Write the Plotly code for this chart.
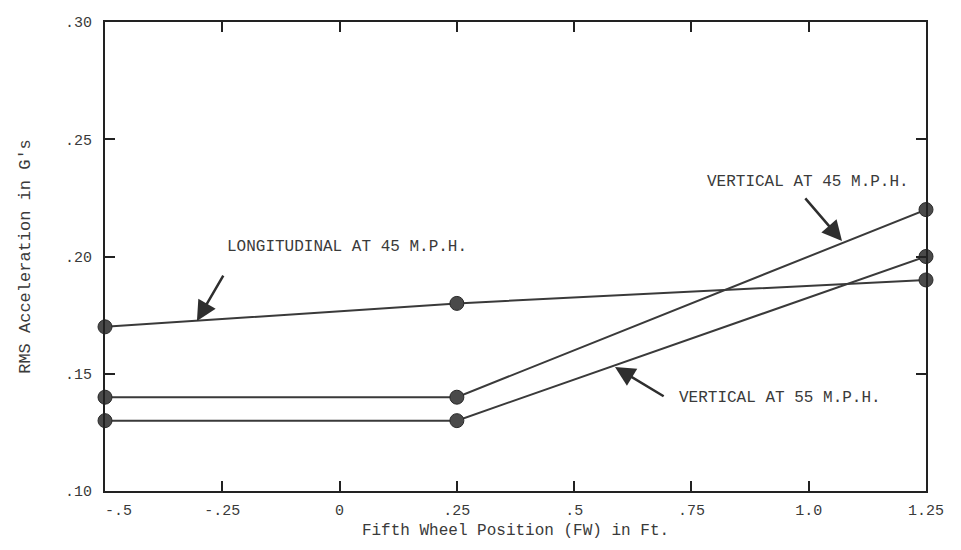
import plotly.graph_objects as go

# Fifth wheel position (ft) and RMS acceleration (G's)
fw_position = [-0.5, 0.25, 1.25]
longitudinal_45 = [0.17, 0.18, 0.19]
vertical_45 = [0.14, 0.14, 0.22]
vertical_55 = [0.13, 0.13, 0.20]

x_ticks = [-0.5, -0.25, 0, 0.25, 0.5, 0.75, 1.0, 1.25]
# first label nudged right so it clears the corner of the frame
x_tick_text = ["\u00a0\u00a0\u00a0-.5", "-.25", "0", ".25", ".5", ".75", "1.0", "1.25"]
y_ticks = [0.10, 0.15, 0.20, 0.25, 0.30]
y_tick_text = [".10", ".15", ".20", ".25", ".30"]

FONT = "Liberation Mono, DejaVu Sans Mono, monospace"
INK = "#3a3a3a"

fig = go.Figure()
for name, vals in [("Longitudinal 45", longitudinal_45),
                   ("Vertical 45", vertical_45),
                   ("Vertical 55", vertical_55)]:
    fig.add_trace(go.Scatter(
        x=fw_position, y=vals, mode="lines+markers", name=name,
        line=dict(color=INK, width=2),
        marker=dict(size=14, color="#4a4a4a", line=dict(color="#2a2a2a", width=1)),
        cliponaxis=False, showlegend=False,
    ))

# Curve labels with pointer arrows
labels = [
    ("LONGITUDINAL AT 45 M.P.H.", 0.016, 0.204, (-0.246, 0.1925), (-0.304, 0.1725)),
    ("VERTICAL AT 45 M.P.H.", 0.999, 0.2318, (0.990, 0.2254), (1.071, 0.2066)),
    ("VERTICAL AT 55 M.P.H.", 0.939, 0.1397, (0.694, 0.140), (0.587, 0.1529)),
]
for text, tx, ty, tail, head in labels:
    fig.add_annotation(x=tx, y=ty, text=text, showarrow=False,
                       font=dict(family=FONT, size=16, color=INK))
    fig.add_annotation(x=head[0], y=head[1], ax=tail[0], ay=tail[1],
                       axref="x", ayref="y", text="", showarrow=True,
                       arrowhead=2, arrowsize=1.6, arrowwidth=2.5,
                       arrowcolor="#2e2e2e", standoff=0)

axis_common = dict(
    showline=True, linecolor="#222", linewidth=2, mirror="allticks",
    ticks="inside", ticklen=10, tickwidth=2, tickcolor="#222",
    showgrid=False, zeroline=False,
    tickfont=dict(family=FONT, size=15, color=INK),
)

fig.update_xaxes(
    range=[-0.5, 1.25], tickvals=x_ticks, ticktext=x_tick_text,
    title=dict(text="Fifth Wheel Position (FW) in Ft.",
               font=dict(family=FONT, size=16, color=INK), standoff=5),
    ticklabelstandoff=4,
    **axis_common,
)
fig.update_yaxes(
    range=[0.10, 0.30], tickvals=y_ticks, ticktext=y_tick_text,
    title=dict(text="RMS Acceleration in G's",
               font=dict(family=FONT, size=17, color=INK), standoff=30),
    ticklabelstandoff=8,
    **axis_common,
)

fig.update_layout(
    width=961, height=550,
    margin=dict(l=105, r=35, t=22, b=59),
    paper_bgcolor="white", plot_bgcolor="white",
)

fig.write_html("out.html")
